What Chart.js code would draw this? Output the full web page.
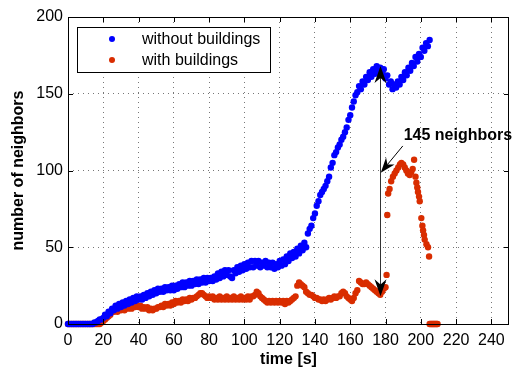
<!DOCTYPE html>
<html>
<head>
<meta charset="utf-8">
<script src="https://cdn.jsdelivr.net/npm/chart.js@4/dist/chart.umd.min.js"></script>
<style>
  body { margin: 0; background: #fff; }
  canvas { display: block; }
</style>
</head>
<body>
<canvas id="myChart" width="516" height="367"></canvas>
<script>
// time axis [s] and number of neighbors
var timeWithout = [
  0,1,2,3,4,5,6,7,8,9,10,11,12,13,14,15,16,17,18,19,
  20,21,22,23,24,25,26,27,28,29,30,31,32,33,34,35,36,37,38,39,
  40,41,42,43,44,45,46,47,48,49,50,51,52,53,54,55,56,57,58,59,
  60,61,62,63,64,65,66,67,68,69,70,71,72,73,74,75,76,77,78,79,
  80,81,82,83,84,85,86,87,88,89,90,91,92,93,94,95,96,97,98,99,
  100,101,102,103,104,105,106,107,108,109,110,111,112,113,114,115,116,117,118,119,
  120,121,122,123,124,125,126,127,128,129,130,131,132,133,134,135,136,137,138,139,
  140,141,142,143,144,145,146,147,148,149,150,151,152,153,154,155,156,157,158,159,
  160,161,162,163,164,165,166,167,168,169,170,171,172,173,174,175,176,177,178,179,
  180,181,182,183,184,185,186,187,188,189,190,191,192,193,194,195,196,197,198,199,
  200,201,202,203,204,205
];
var withoutBuildings = [
  0,0,0,0,0,0,0,0,0,0,0,0,0,0,0,1,1,2,3,3,
  4,6,5,8,7,10,9,12,10,13,11,14,12,15,13,16,14,17,15,18,
  16,18,16,19,17,20,18,21,19,22,20,23,21,23,21,24,22,24,22,25,
  22,25,23,26,24,27,24,27,25,28,25,28,26,29,26,29,27,30,27,30,
  28,30,28,31,29,33,30,34,31,35,32,35,31,30,35,33,37,34,38,35,
  39,36,40,37,41,37,41,38,41,37,40,38,41,37,40,37,40,36,39,37,
  41,38,42,39,44,41,46,43,47,44,49,46,51,48,53,50,59,62,64,69,
  72,77,80,84,86,88,90,93,96,102,105,110,112,115,117,120,122,125,128,133,
  136,141,145,149,151,155,153,158,156,161,159,164,161,166,163,168,165,167,163,166,
  160,162,156,158,153,156,154,158,156,161,159,164,162,167,165,170,168,174,171,176,
  174,180,178,183,181,185
];
var timeWith = [
  0,1,2,3,4,5,6,7,8,9,10,11,12,13,14,15,16,17,18,19,
  20,21,22,23,24,25,26,27,28,29,30,31,32,33,34,35,36,37,38,39,
  40,41,42,43,44,45,46,47,48,49,50,51,52,53,54,55,56,57,58,59,
  60,61,62,63,64,65,66,67,68,69,70,71,72,73,74,75,76,77,78,79,
  80,81,82,83,84,85,86,87,88,89,90,91,92,93,94,95,96,97,98,99,
  100,101,102,103,104,105,106,107,108,109,110,111,112,113,114,115,116,117,118,119,
  120,121,122,123,124,125,126,127,128,129,130,131,132,133,134,135,136,137,138,139,
  140,141,142,143,144,145,146,147,148,149,150,151,152,153,154,155,156,157,158,159,
  160,161,162,163,164,165,166,167,168,169,170,171,172,173,174,175,176,177,178,179,
  180,180.6,181,181.5,182.3,183.2,184.2,185.2,186.2,187.2,188.2,189,190,190.9,191.8,192.7,193.7,194.6,195.4,196.2,
  197,197.5,198,198.4,199,199.4,200.3,200.9,201.3,201.8,202.2,203.2,204.1,204.7,
  205,205.5,206,206.5,207,207.5,208,208.5,209,209.5
];
var withBuildings = [
  0,0,0,0,0,0,0,0,0,0,0,0,0,0,0,0,0,0,0,1,
  2,3,4,5,6,8,8,9,8,10,9,10,9,11,10,11,10,12,11,12,
  11,12,10,11,10,11,9,10,9,10,10,11,11,12,11,13,12,13,12,14,
  13,15,14,15,14,16,15,16,15,17,16,17,17,18,19,20,20,19,18,17,
  18,17,18,16,17,16,18,16,17,16,18,16,17,16,18,16,17,16,18,16,
  17,16,18,16,18,18,19,21,20,18,17,16,15,14,15,14,15,14,15,14,
  15,14,15,13,15,14,15,16,17,18,25,27,26,25,24,21,20,19,19,18,
  17,17,16,16,15,16,15,16,17,16,17,18,17,18,18,20,21,20,18,17,
  16,15,17,20,22,28,27,26,26,27,26,25,24,23,22,21,20,19,21,23,
  24,32,71,85,88,93,96,98,100,102,104,105,104,102,100,98,97,99,101,107,
  96,92,89,86,83,80,69,64,61,58,55,52,50,44,
  0,0,0,0,0,0,0,0,0,0
];

var xTicks = [0,20,40,60,80,100,120,140,160,180,200,220,240];
var yTicks = [0,50,100,150,200];

// annotation: the 145-neighbor gap at t = 176.7 s
var gapTime = 176.7;
var gapLow = 18;
var gapHigh = 168;
var noteText = '145 neighbors';
var noteAt = [190.3, 122.5];
var pointerFrom = [189.8, 116];
var pointerTo = [177.3, 98.6];

var blue = 'rgb(0,0,255)';
var red = 'rgb(217,45,0)';
var fontFamily = '"Liberation Sans", Arial, Helvetica, sans-serif';

function toXY(arrT, arrV) {
  var out = [];
  for (var i = 0; i < arrT.length; i++) out.push({x: arrT[i], y: arrV[i]});
  return out;
}

function arrowHead(ctx, tipX, tipY, fromX, fromY, len, half) {
  var ang = Math.atan2(tipY - fromY, tipX - fromX);
  var c = Math.cos(ang), s = Math.sin(ang);
  var bx = tipX - c * len, by = tipY - s * len;
  var nx = tipX - c * len * 0.7, ny = tipY - s * len * 0.7;
  ctx.beginPath();
  ctx.moveTo(tipX, tipY);
  ctx.lineTo(bx - s * half, by + c * half);
  ctx.lineTo(nx, ny);
  ctx.lineTo(bx + s * half, by - c * half);
  ctx.closePath();
  ctx.fill();
}

var matlabLook = {
  id: 'matlabLook',
  afterDraw: function (chart) {
    var ctx = chart.ctx;
    var a = chart.chartArea;
    var sx = chart.scales.x, sy = chart.scales.y;
    ctx.save();

    // box and inward ticks
    ctx.strokeStyle = '#000';
    ctx.lineWidth = 1;
    ctx.strokeRect(a.left + 0.5, a.top + 0.5, a.right - a.left - 1, a.bottom - a.top);
    ctx.beginPath();
    xTicks.forEach(function (v) {
      var px = Math.round(sx.getPixelForValue(v)) + 0.5;
      ctx.moveTo(px, a.bottom); ctx.lineTo(px, a.bottom - 5);
      ctx.moveTo(px, a.top); ctx.lineTo(px, a.top + 5);
    });
    yTicks.forEach(function (v) {
      var py = Math.round(sy.getPixelForValue(v)) + 0.5;
      ctx.moveTo(a.left, py); ctx.lineTo(a.left + 5, py);
      ctx.moveTo(a.right, py); ctx.lineTo(a.right - 5, py);
    });
    ctx.stroke();

    // legend
    ctx.fillStyle = '#fff';
    ctx.fillRect(77, 27, 193, 45);
    ctx.strokeRect(77.5, 27.5, 193, 45);
    ctx.font = '16px ' + fontFamily;
    ctx.textBaseline = 'middle';
    ctx.textAlign = 'left';
    chart.data.datasets.forEach(function (ds, i) {
      var y = 40 + i * 21;
      ctx.fillStyle = ds.backgroundColor;
      ctx.beginPath();
      ctx.arc(112, y - 1, 3, 0, Math.PI * 2);
      ctx.fill();
      ctx.fillStyle = '#000';
      ctx.fillText(ds.label, 142, y);
    });

    // double arrow showing the gap
    var gx = Math.round(sx.getPixelForValue(gapTime)) + 0.5;
    var gTop = sy.getPixelForValue(gapHigh);
    var gBot = sy.getPixelForValue(gapLow);
    ctx.strokeStyle = '#333';
    ctx.beginPath();
    ctx.moveTo(gx, gTop + 10);
    ctx.lineTo(gx, gBot - 10);
    ctx.stroke();
    ctx.fillStyle = '#000';
    arrowHead(ctx, gx, gTop, gx, gBot, 17, 6);
    arrowHead(ctx, gx, gBot, gx, gTop, 17, 6);

    // pointer and note
    var fx = sx.getPixelForValue(pointerFrom[0]), fy = sy.getPixelForValue(pointerFrom[1]);
    var tx = sx.getPixelForValue(pointerTo[0]), ty = sy.getPixelForValue(pointerTo[1]);
    ctx.strokeStyle = '#000';
    ctx.beginPath();
    ctx.moveTo(fx, fy);
    ctx.lineTo(tx + (fx - tx) * 0.3, ty + (fy - ty) * 0.3);
    ctx.stroke();
    arrowHead(ctx, tx, ty, fx, fy, 15, 5.5);

    ctx.font = 'bold 16px ' + fontFamily;
    ctx.textBaseline = 'middle';
    ctx.fillText(noteText, sx.getPixelForValue(noteAt[0]), sy.getPixelForValue(noteAt[1]));
    ctx.restore();
  }
};

var ctx = document.getElementById('myChart').getContext('2d');
var chart = new Chart(ctx, {
  type: 'scatter',
  data: {
    datasets: [{
      label: 'without buildings',
      data: toXY(timeWithout, withoutBuildings),
      backgroundColor: blue,
      borderColor: blue,
      borderWidth: 0,
      pointRadius: 3.2,
      clip: false
    }, {
      label: 'with buildings',
      data: toXY(timeWith, withBuildings),
      backgroundColor: red,
      borderColor: red,
      borderWidth: 0,
      pointRadius: 3.2,
      clip: false
    }]
  },
  options: {
    responsive: false,
    animation: false,
    layout: { padding: { top: 17, right: 7, left: 0, bottom: 0 } },
    plugins: {
      legend: { display: false },
      tooltip: { enabled: false }
    },
    scales: {
      x: {
        type: 'linear',
        min: 0,
        max: 250,
        afterBuildTicks: function (s) { s.ticks = xTicks.map(function (v) { return {value: v}; }); },
        afterFit: function (s) { s.height = 43; },
        ticks: { color: '#000', padding: 7, font: { size: 16, family: fontFamily }, maxRotation: 0, autoSkip: false },
        grid: { color: '#777', drawTicks: false },
        border: { display: false, dash: [1, 4] },
        title: { display: true, text: 'time [s]', color: '#000', padding: { top: 0, bottom: -2 }, font: { size: 16, weight: 'bold', family: fontFamily } }
      },
      y: {
        min: 0,
        max: 200,
        afterBuildTicks: function (s) { s.ticks = yTicks.map(function (v) { return {value: v}; }); },
        afterFit: function (s) { s.width = 68; },
        ticks: { color: '#000', padding: 5, font: { size: 16, family: fontFamily } },
        grid: { color: '#777', drawTicks: false },
        border: { display: false, dash: [1, 4] },
        title: { display: true, text: 'number of neighbors', color: '#000', padding: { top: 9, bottom: 0 }, font: { size: 16, weight: 'bold', family: fontFamily } }
      }
    }
  },
  plugins: [matlabLook]
});
</script>
</body>
</html>
